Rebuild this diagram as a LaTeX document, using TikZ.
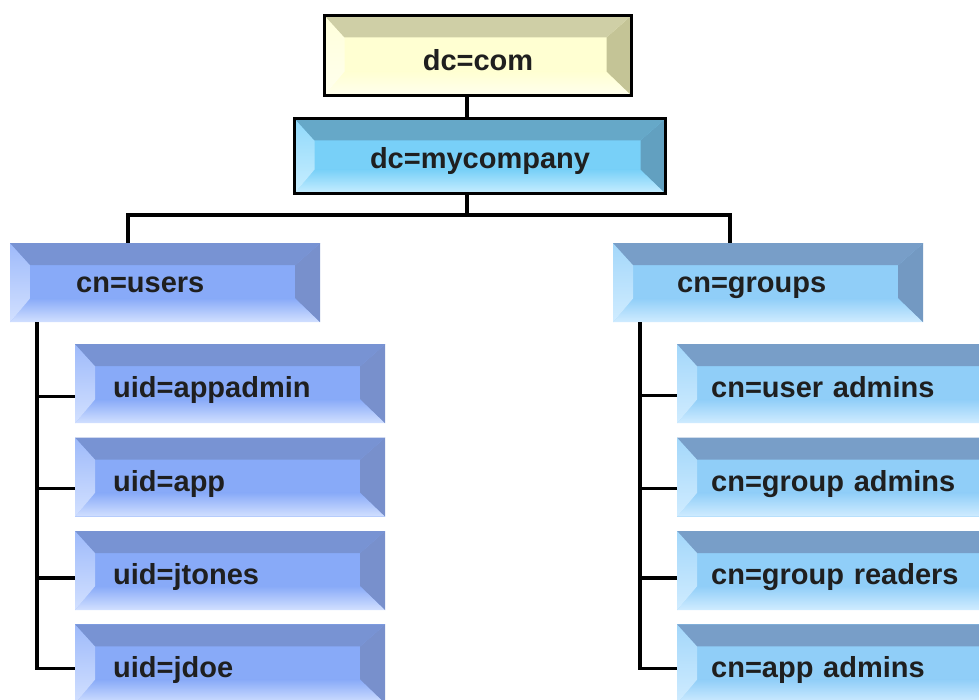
\documentclass[tikz,border=0pt]{standalone}
\usepackage{fontspec}
\setmainfont{Liberation Sans}
\usetikzlibrary{positioning}
\definecolor{comtop}{HTML}{CFCFA6}
\definecolor{comside}{HTML}{C4C496}
\definecolor{commid}{HTML}{FFFFD2}
\definecolor{comlight}{HTML}{FFFFEE}
\definecolor{mytop}{HTML}{66A8C8}
\definecolor{myside}{HTML}{62A0C0}
\definecolor{mymid}{HTML}{78D0F8}
\definecolor{mylight}{HTML}{C8EEFF}
\definecolor{usertop}{HTML}{7893D3}
\definecolor{userside}{HTML}{7890CC}
\definecolor{usermid}{HTML}{88AAF8}
\definecolor{userlight}{HTML}{D2E0FF}
\definecolor{grouptop}{HTML}{789EC8}
\definecolor{groupside}{HTML}{7399C2}
\definecolor{groupmid}{HTML}{90CEF8}
\definecolor{grouplight}{HTML}{D0ECFF}
\tikzset{
	bevel/.style n args={4}{path picture={
		\coordinate (bA) at (path picture bounding box.north west);
		\coordinate (bB) at (path picture bounding box.north east);
		\coordinate (bC) at (path picture bounding box.south east);
		\coordinate (bD) at (path picture bounding box.south west);
		\coordinate (ba) at ([shift={(20pt,-22pt)}]bA);
		\coordinate (bb) at ([shift={(-25pt,-22pt)}]bB);
		\coordinate (bc) at ([shift={(-25pt,24pt)}]bC);
		\coordinate (bd) at ([shift={(20pt,24pt)}]bD);
		\fill[#3] (bA) rectangle (bC);
		\shade[top color=#3,bottom color=#4] (bd) -- (bc) -- (bC) -- (bD) -- cycle;
		\shade[top color=#3!70!#4,bottom color=#4] (bA) -- (ba) -- (bd) -- (bD) -- cycle;
		\fill[#2] (bB) -- (bC) -- (bc) -- (bb) -- cycle;
		\fill[#1] (bA) -- (bB) -- (bb) -- (ba) -- cycle;
	}},
	wire/.style={line width=3.2pt,black,line join=miter},
	rootbox/.style={draw=black,line width=3pt,outer sep=0pt,anchor=north west,inner sep=0pt,
		font=\fontsize{29}{32}\selectfont\bfseries,text=black!88},
	box/.style={anchor=north west,inner ysep=0pt,minimum height=79pt,align=left,
		font=\fontsize{29}{32}\selectfont\bfseries,text=black!88},
	userhead/.style={box,inner xsep=66pt,text width=178pt,text height=24pt,text depth=4pt,
		bevel={usertop}{userside}{usermid}{userlight}},
	userkid/.style={box,inner xsep=38pt,text width=234pt,text height=30pt,text depth=2pt,
		bevel={usertop}{userside}{usermid}{userlight}},
	grouphead/.style={box,inner xsep=64pt,text width=182pt,text height=24pt,text depth=4pt,
		bevel={grouptop}{groupside}{groupmid}{grouplight}},
	groupkid/.style={box,inner xsep=34pt,text width=270pt,text height=30pt,text depth=2pt,
		bevel={grouptop}{groupside}{groupmid}{grouplight}},
}
\begin{document}
\begin{tikzpicture}[x=1pt,y=-1pt]
	\useasboundingbox (0,0) rectangle (979,700);
	\fill[white] (0,0) rectangle (979,700);
	\clip (0,0) rectangle (979,700);
	\node[rootbox,minimum width=307pt,minimum height=80pt,text height=33pt,text depth=2pt,
		bevel={comtop}{comside}{commid}{comlight}] (com) at (324.5,15.5) {dc=com};
	\node[rootbox,minimum width=371pt,minimum height=75pt,text height=27pt,text depth=2pt,
		bevel={mytop}{myside}{mymid}{mylight}] (mycompany) at (294.5,118.5) {dc=mycompany};
	\node[userhead] (users) at (10,243) {cn=users};
	\node[grouphead] (groups) at (613,243) {cn=groups};
	\node[userkid] (appadmin) at (75,344) {uid=appadmin};
	\node[userkid,below=14pt of appadmin] (app) {uid=app};
	\node[userkid,below=14pt of app] (jtones) {uid=jtones};
	\node[userkid,below=14pt of jtones] (jdoe) {uid=jdoe};
	\node[groupkid] (useradmins) at (677,344) {cn=user admins};
	\node[groupkid,below=14pt of useradmins] (groupadmins) {cn=group admins};
	\node[groupkid,below=14pt of groupadmins] (groupreaders) {cn=group readers};
	\node[groupkid,below=14pt of groupreaders] (appadmins) {cn=app admins};
	\coordinate (hub) at (467,215);
	\coordinate (lbar) at (128,215);
	\coordinate (rbar) at (730,215);
	\coordinate (utrunk) at (37,0);
	\coordinate (gtrunk) at (640,0);
	\draw[wire] (com.south -| hub) -- (mycompany.north -| hub);
	\draw[wire] (mycompany.south -| hub) -- (hub);
	\draw[wire] (users.north -| lbar) -- (lbar) -- (rbar) -- (groups.north -| rbar);
	\draw[wire] (users.south -| utrunk) |- ([yshift=-4.5pt]jdoe.west);
	\draw[wire] (groups.south -| gtrunk) |- ([yshift=-4.5pt]appadmins.west);
	\foreach \kid/\dy in {appadmin/12.5,app/11.5,jtones/7.5}
		\draw[wire] ([yshift=-\dy pt]\kid.west) -- ++(-38pt,0);
	\foreach \kid/\dy in {useradmins/11.5,groupadmins/11.5,groupreaders/7.5}
		\draw[wire] ([yshift=-\dy pt]\kid.west) -- ++(-37pt,0);
\end{tikzpicture}
\end{document}
